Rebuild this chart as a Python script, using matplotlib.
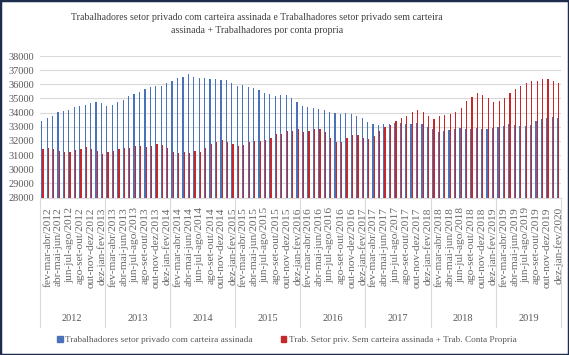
import numpy as np
import matplotlib
matplotlib.use('Agg')
import matplotlib.pyplot as plt
import matplotlib.patches as mpatches
from matplotlib.lines import Line2D

plt.rcParams['font.family'] = 'Liberation Serif'

# ---- dados (mil pessoas), trimestres móveis jan-fev-mar/2012 .. dez-jan-fev/2020
MESES = ['jan', 'fev', 'mar', 'abr', 'mai', 'jun', 'jul', 'ago', 'set', 'out', 'nov', 'dez']
ANOS  = [2012, 2013, 2014, 2015, 2016, 2017, 2018, 2019]

COM_CARTEIRA = [
    33390, 33620, 33790, 34050, 34120, 34210, 34380, 34470, 34540, 34710, 34750, 34710,
    34470, 34560, 34780, 34920, 35150, 35290, 35460, 35670, 35790, 35880, 35880, 36110,
    36240, 36420, 36490, 36730, 36490, 36450, 36470, 36400, 36380, 36310, 36290, 36090,
    35910, 35930, 35790, 35720, 35580, 35410, 35290, 35200, 35250, 35250, 35010, 34740,
    34490, 34380, 34310, 34280, 34210, 34050, 33980, 33930, 33950, 33910, 33740, 33620,
    33320, 33200, 33130, 33200, 33200, 33290, 33250, 33200, 33200, 33250, 33200, 32970,
    32820, 32640, 32710, 32750, 32870, 32920, 32870, 32870, 32890, 32870, 32850, 32940,
    32990, 33080, 33200, 33130, 33040, 33060, 33150, 33410, 33530, 33650, 33670, 33600,
]
SEM_CART_CONTA_PROPRIA = [
    31430, 31480, 31460, 31290, 31200, 31200, 31340, 31460, 31550, 31410, 31320, 31080,
    31200, 31270, 31410, 31530, 31530, 31620, 31670, 31600, 31670, 31810, 31740, 31520,
    31200, 31110, 31250, 31180, 31270, 31220, 31530, 31790, 31910, 32070, 31950, 31790,
    31650, 31740, 31910, 31980, 32000, 32070, 32240, 32470, 32490, 32730, 32720, 32820,
    32660, 32730, 32820, 32820, 32610, 32240, 31930, 31930, 32210, 32420, 32400, 32210,
    32120, 32350, 32680, 32990, 33150, 33410, 33620, 33760, 34050, 34160, 34050, 33750,
    33550, 33740, 33840, 33880, 34050, 34310, 34820, 35080, 35360, 35250, 35060, 34750,
    34820, 35060, 35410, 35650, 35880, 36070, 36240, 36260, 36380, 36350, 36210, 36120,
]

# rótulos "mês-mês-mês/ano" (ano do último mês)
CATEGORIAS = []
for a in ANOS:
    for k in range(12):
        m = [MESES[(k + j) % 12] for j in range(3)]
        CATEGORIAS.append('-'.join(m) + '/' + str(a + (k + 2) // 12))

C_AZUL = '#4A72B8'
C_VERM = '#C8272A'
C_TXT  = '#595959'

x = np.arange(len(CATEGORIAS))
W, H = 569, 355
fig = plt.figure(figsize=(W / 100, H / 100), dpi=100)
ax = fig.add_axes([39.6 / W, 1 - 197.5 / H, (561 - 39.6) / W, (197.5 - 56) / H])

w = 0.22
ax.bar(x - w / 2, COM_CARTEIRA, width=w, color=C_AZUL, edgecolor='none', zorder=3)
ax.bar(x + w / 2, SEM_CART_CONTA_PROPRIA, width=w, color=C_VERM, edgecolor='none', zorder=3)

ax.set_ylim(28000, 38000)
ax.set_xlim(-0.5, len(CATEGORIAS) - 0.5)
ax.set_yticks(np.arange(28000, 38001, 1000))
ax.yaxis.grid(True, color='#D9D9D9', lw=0.8, zorder=0)
ax.set_axisbelow(True)
for sp in ['top', 'right', 'left']:
    ax.spines[sp].set_visible(False)
ax.spines['bottom'].set_color('#D9D9D9')
ax.tick_params(axis='y', length=0, labelsize=7.5, labelcolor=C_TXT, pad=4)

ax.set_xticks(x[1::2])
ax.set_xticklabels(CATEGORIAS[1::2], rotation=90, fontsize=8.2, color='#666666')
ax.tick_params(axis='x', length=0, pad=7)

# eixo de categorias em dois níveis
tr = ax.get_xaxis_transform()
for b in np.arange(-0.5, len(CATEGORIAS), 12):
    ax.add_line(Line2D([b, b], [0, -0.915], transform=tr, color='#D9D9D9',
                       lw=0.8, clip_on=False))
for i, a in enumerate(ANOS):
    ax.text(i * 12 + 5.5, -0.852, str(a), transform=tr, ha='center', va='center',
            fontsize=7.5, color=C_TXT)

fig.text(257 / W, 1 - 24 / H,
         'Trabalhadores setor privado com carteira assinada e Trabalhadores setor privado sem carteira\n'
         'assinada + Trabalhadores por conta propria',
         ha='center', va='center', fontsize=7.1, color='#404040', linespacing=1.6)

handles = [mpatches.Patch(color=C_AZUL, label='Trabalhadores setor privado com carteira assinada'),
           mpatches.Patch(color=C_VERM, label='Trab. Setor priv. Sem carteira assinada + Trab. Conta Propria')]
leg = fig.legend(handles=handles, loc='center', bbox_to_anchor=(287 / W, 1 - 340 / H), ncol=2,
                 frameon=False, fontsize=6.7, handlelength=0.6, handleheight=0.6,
                 handletextpad=0.3, columnspacing=3.0)
for t in leg.get_texts():
    t.set_color(C_TXT)

fig.patches.append(mpatches.Rectangle((0, 0), 1, 1, transform=fig.transFigure, fill=False,
                                      edgecolor='#1F2D4D', lw=2.5))
fig.savefig('out.png', dpi=100)
